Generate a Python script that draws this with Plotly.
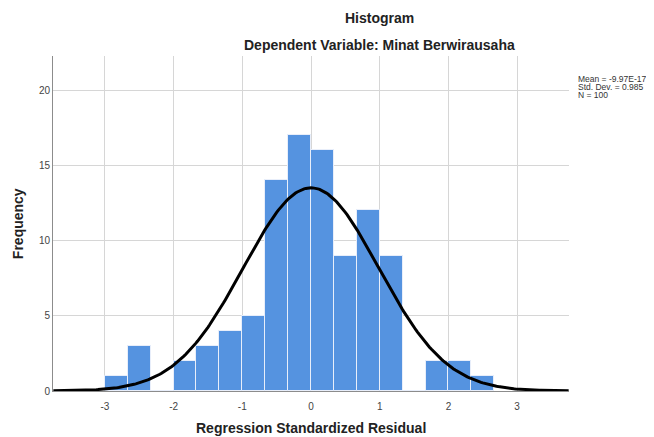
import numpy as np
import plotly.graph_objects as go

# ---- data ----
bin_left = [-3.0, -2.6667, -2.3333, -2.0, -1.6667, -1.3333, -1.0, -0.6667, -0.3333,
            0.0, 0.3333, 0.6667, 1.0, 1.3333, 1.6667, 2.0, 2.3333]
counts = [1, 3, 0, 2, 3, 4, 5, 14, 17, 16, 9, 12, 9, 0, 2, 2, 1]
bin_width = 1/3
mean_val = -9.97e-17
std_val = 0.985
n_val = 100
x_ticks = [-3, -2, -1, 0, 1, 2, 3]
y_ticks = [0, 5, 10, 15, 20]
stat_lines = ["Mean = -9.97E-17", "Std. Dev. = 0.985", "N = 100"]

FONT = "Liberation Sans, Arial, sans-serif"

centers = [b + bin_width/2 for b in bin_left]

fig = go.Figure()
fig.add_trace(go.Bar(
    x=centers, y=counts, width=[bin_width]*len(counts),
    marker=dict(color="#5593e0", line=dict(color="#e8eefa", width=1)),
    hoverinfo="x+y", showlegend=False))

# normal curve defined by the chart's stated mean / std / N
xc = np.linspace(-3.75, 3.75, 301)
yc = n_val * bin_width * np.exp(-0.5 * ((xc - mean_val) / std_val) ** 2) / (std_val * np.sqrt(2 * np.pi))
fig.add_trace(go.Scatter(x=xc, y=yc, mode="lines",
                         line=dict(color="black", width=3), showlegend=False))

# page body has an 8px default margin, so the figure is 8px smaller
fig.update_layout(
    width=646, height=429,
    margin=dict(l=45, r=85, t=48, b=46),
    paper_bgcolor="white", plot_bgcolor="white",
    font=dict(family=FONT, color="#333"),
    bargap=0,
    xaxis=dict(range=[-3.755, 3.755], tickvals=x_ticks, ticktext=[str(v) for v in x_ticks],
               showgrid=True, gridcolor="#d6d6d6", gridwidth=1, zeroline=False,
               showline=True, linecolor="#8c8c8c", linewidth=1,
               ticks="", tickfont=dict(size=10, color="#444"), ticklabelstandoff=6),
    yaxis=dict(range=[0, 22.26], tickvals=y_ticks, ticktext=[str(v) for v in y_ticks],
               showgrid=True, gridcolor="#d6d6d6", gridwidth=1, zeroline=False,
               showline=True, linecolor="#8c8c8c", linewidth=1,
               ticks="", tickfont=dict(size=10, color="#444")),
)

annos = [
    dict(text="<b>Histogram</b>", x=0.6335, y=1.1134, font=dict(size=14, color="#222")),
    dict(text="<b>Dependent Variable: Minat Berwirausaha</b>", x=0.6335, y=1.0328,
         font=dict(size=14, color="#222")),
    dict(text="<b>Regression Standardized Residual</b>", x=0.5, y=-0.1104,
         font=dict(size=14, color="#222")),
    dict(text="<b>Frequency</b>", x=-0.0685, y=0.5, textangle=-90,
         font=dict(size=14, color="#222")),
]
for a in annos:
    a.update(xref="paper", yref="paper", showarrow=False, xanchor="center", yanchor="middle")
    fig.add_annotation(**a)

for i, t in enumerate(stat_lines):
    fig.add_annotation(text=t, xref="paper", yref="paper", x=1.0136, y=0.9313 - i*0.0239,
                       xanchor="left", yanchor="middle", showarrow=False,
                       font=dict(size=8.5, color="#333", family=FONT))

fig.write_html("out.html")
